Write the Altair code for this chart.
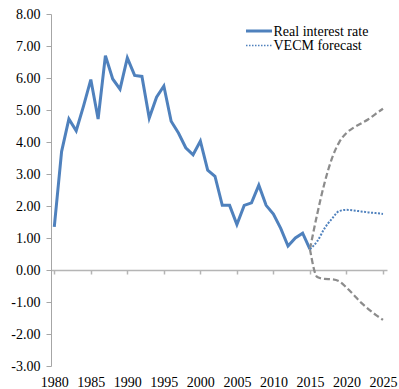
import altair as alt
import pandas as pd

# Observed real interest rate, 1980-2015
hist_years = list(range(1980, 2016))
real_rate = [1.35, 3.70, 4.72, 4.35, 5.12, 5.95, 4.72, 6.70, 5.97, 5.65,
             6.63, 6.08, 6.05, 4.75, 5.40, 5.75, 4.65, 4.28, 3.82, 3.60,
             4.03, 3.12, 2.93, 2.02, 2.02, 1.42, 2.02, 2.10, 2.65, 2.02,
             1.75, 1.30, 0.75, 1.00, 1.15, 0.65]

# VECM forecast path and its upper / lower bands, 2015-2025
fc_years = list(range(2015, 2026))
vecm_forecast = [0.65, 0.90, 1.30, 1.60, 1.84, 1.88, 1.86, 1.83, 1.80, 1.78, 1.75]
upper_band = [0.65, 1.75, 2.72, 3.48, 3.99, 4.28, 4.45, 4.58, 4.71, 4.88, 5.04]
lower_band = [0.65, -0.22, -0.28, -0.29, -0.35, -0.55, -0.78, -1.02, -1.22, -1.40, -1.56]

year_ticks = list(range(1980, 2030, 5))
rate_ticks = list(range(-3, 9))
legend_labels = ["Real interest rate", "VECM forecast"]

BLUE = "#4f81bd"
GREY = "#8c8c8c"
FONT = "Liberation Serif"

hist_df = pd.DataFrame({"year": hist_years, "rate": real_rate})
fc_df = pd.DataFrame({"year": fc_years, "rate": vecm_forecast})
band_df = pd.concat([
    pd.DataFrame({"year": fc_years, "rate": upper_band, "band": "upper"}),
    pd.DataFrame({"year": fc_years, "rate": lower_band, "band": "lower"}),
])

x_scale = alt.Scale(domain=[1979.55, 2025.55], nice=False, zero=False)
y_scale = alt.Scale(domain=[-3, 8], nice=False, zero=False)

x_axis = alt.Axis(
    values=year_ticks, format="d", title=None, grid=False,
    offset=-96, tickSize=4, labelPadding=101,
    labelOverlap=False, labelFlush=False, labelBound=False,
    domainColor="#b5b5b5", domainWidth=1.5, tickColor="#b5b5b5", tickWidth=1.5,
    labelFont=FONT, labelFontSize=14, labelColor="#000000",
)
y_axis = alt.Axis(
    values=rate_ticks, title=None, grid=False,
    labelExpr="replace(format(datum.value, '.2f'), '\u2212', '-')",
    tickSize=5, labelPadding=6,
    labelOverlap=False, labelFlush=False, labelBound=False,
    domainColor="#a6a6a6", tickColor="#a6a6a6",
    labelFont=FONT, labelFontSize=14, labelColor="#000000",
)

enc_x = alt.X("year:Q", scale=x_scale, axis=x_axis)
enc_y = alt.Y("rate:Q", scale=y_scale, axis=y_axis)

hist_line = alt.Chart(hist_df).mark_line(color=BLUE, strokeWidth=3).encode(
    x=enc_x, y=enc_y
)

band_lines = alt.Chart(band_df).mark_line(
    color=GREY, strokeWidth=2.25, strokeDash=[6, 3], interpolate="monotone"
).encode(x=enc_x, y=enc_y, detail="band:N")

fc_line = alt.Chart(fc_df).mark_line(
    color=BLUE, strokeWidth=2, strokeDash=[2, 1.5], interpolate="monotone"
).encode(x=enc_x, y=enc_y)

# Legend, drawn in the upper right of the plot area
def legend_entry(label, y, dash, width):
    entry_df = pd.DataFrame({"label": [label]})
    swatch = alt.Chart(entry_df).mark_rule(
        color=BLUE, strokeWidth=width, strokeDash=dash
    ).encode(x=alt.value(195), x2=alt.value(221), y=alt.value(y))
    text = alt.Chart(entry_df).mark_text(
        align="left", baseline="middle", font=FONT, fontSize=14, color="#000000"
    ).encode(x=alt.value(222.5), y=alt.value(y + 0.5), text="label:N")
    return swatch + text

legend_solid = legend_entry(legend_labels[0], 17, [1, 0], 3)
legend_dotted = legend_entry(legend_labels[1], 31.5, [1.5, 1.5], 1.5)

chart = alt.layer(
    hist_line, band_lines, fc_line, legend_solid, legend_dotted
).properties(
    width=336, height=352,
    autosize=alt.AutoSizeParams(type="none"),
    padding={"left": 51, "top": 14, "right": 12, "bottom": 23},
).configure_view(stroke=None).configure_axis(labelOverlap=False)

chart.save("out.html", embed_options={"renderer": "svg", "actions": False})
